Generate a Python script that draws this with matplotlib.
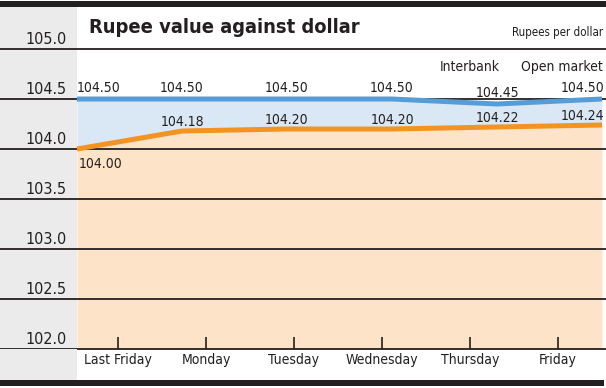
import numpy as np
import matplotlib
matplotlib.use('Agg')
import matplotlib.pyplot as plt
from matplotlib.patches import Rectangle

plt.rcParams['font.family'] = ['DejaVu Sans']
plt.rcParams['font.stretch'] = 'condensed'

days = ['Last Friday', 'Monday', 'Tuesday', 'Wednesday', 'Thursday', 'Friday']
interbank = [104.50, 104.50, 104.50, 104.50, 104.45, 104.50]
open_market = [104.00, 104.18, 104.20, 104.20, 104.22, 104.24]
yticks = [102.0, 102.5, 103.0, 103.5, 104.0, 104.5, 105.0]

blue = '#569cd6'
blue_fill = '#dae8f6'
orange = '#f39322'
orange_fill = '#fde4c8'
grey = '#ebebeb'
ink = '#231f20'

W, H = 606, 388
fig = plt.figure(figsize=(W / 100, H / 100), dpi=100)
# axes: bottom edge = 102.0 line (y=349px), top edge = top bar (y=6px)
ax = fig.add_axes([0, (H - 349) / H, 1, (349 - 6) / H])
px_x = 105.0  # pixels per day step
px_y = 100.0  # pixels per rupee
ax.set_xlim(-77 / px_x, (W - 77) / px_x)
ax.set_ylim(102.0, 102.0 + (349 - 6) / px_y)

x = np.arange(len(days))
ax.axvspan(-77 / px_x, 0, color=grey, zorder=0, lw=0)
ax.fill_between(x, open_market, 102.0, color=orange_fill, lw=0, zorder=0)
ax.fill_between(x, interbank, open_market, color=blue_fill, lw=0, zorder=0)

for v in yticks:
    ax.axhline(v, color=ink, lw=1.3, zorder=2, clip_on=False)
    ax.text(-10 / px_x, v + 0.045, f'{v:.1f}', ha='right', va='baseline',
            fontsize=11.5, color=ink)

ax.plot(x, interbank, color=blue, lw=3.6, zorder=3, solid_capstyle='butt')
ax.plot(x, open_market, color=orange, lw=3.6, zorder=3, solid_capstyle='butt')

# value labels
lab = 10
for i, v in enumerate(interbank):
    ha = 'left' if i == 0 else ('right' if i == len(days) - 1 else 'center')
    xi = 0 if i == 0 else (5.02 if i == len(days) - 1 else i)
    ax.text(xi, v + 0.07, f'{v:.2f}', ha=ha, va='baseline', fontsize=lab,
            color=ink, zorder=4)
for i, v in enumerate(open_market):
    if i == 0:
        ax.text(0.02, v - 0.19, f'{v:.2f}', ha='left', va='baseline',
                fontsize=lab, color=ink, zorder=4)
        continue
    ha = 'right' if i == len(days) - 1 else 'center'
    xi = 5.02 if i == len(days) - 1 else i
    ax.text(xi, v + 0.045, f'{v:.2f}', ha=ha, va='baseline', fontsize=lab,
            color=ink, zorder=4)

ax.text(3.743, 104.78, 'Interbank', ha='center', va='baseline', fontsize=lab, color=ink)
ax.text(5.01, 104.78, 'Open market', ha='right', va='baseline', fontsize=lab, color=ink)
ax.text(5.01, 105.13, 'Rupees per dollar', ha='right', va='baseline', fontsize=8.3, color=ink)
ax.text(0.11, 105.16, 'Rupee value against dollar', ha='left', va='baseline',
        fontsize=14.4, fontweight='bold', color=ink)

# category ticks sit on their own spacing
ax.set_xticks(0.39 + 0.838 * x, days)
ax.tick_params(axis='x', direction='in', length=9, width=1.2, color=ink,
               labelsize=lab, labelcolor=ink, pad=3)
ax.set_yticks([])
for s in ax.spines.values():
    s.set_visible(False)

# grey band below axes, top and bottom bars
fig.patches.append(Rectangle((0, (H - 381) / H), 77 / W, (381 - 349) / H,
                             transform=fig.transFigure, color=grey, lw=0, zorder=0))
fig.patches.append(Rectangle((0, (H - 386) / H), 604 / W, 6 / H,
                             transform=fig.transFigure, color=ink, lw=0))
fig.patches.append(Rectangle((0, (H - 6.5) / H), 1, 5.5 / H,
                             transform=fig.transFigure, color=ink, lw=0))

fig.savefig('out.png', dpi=100)
